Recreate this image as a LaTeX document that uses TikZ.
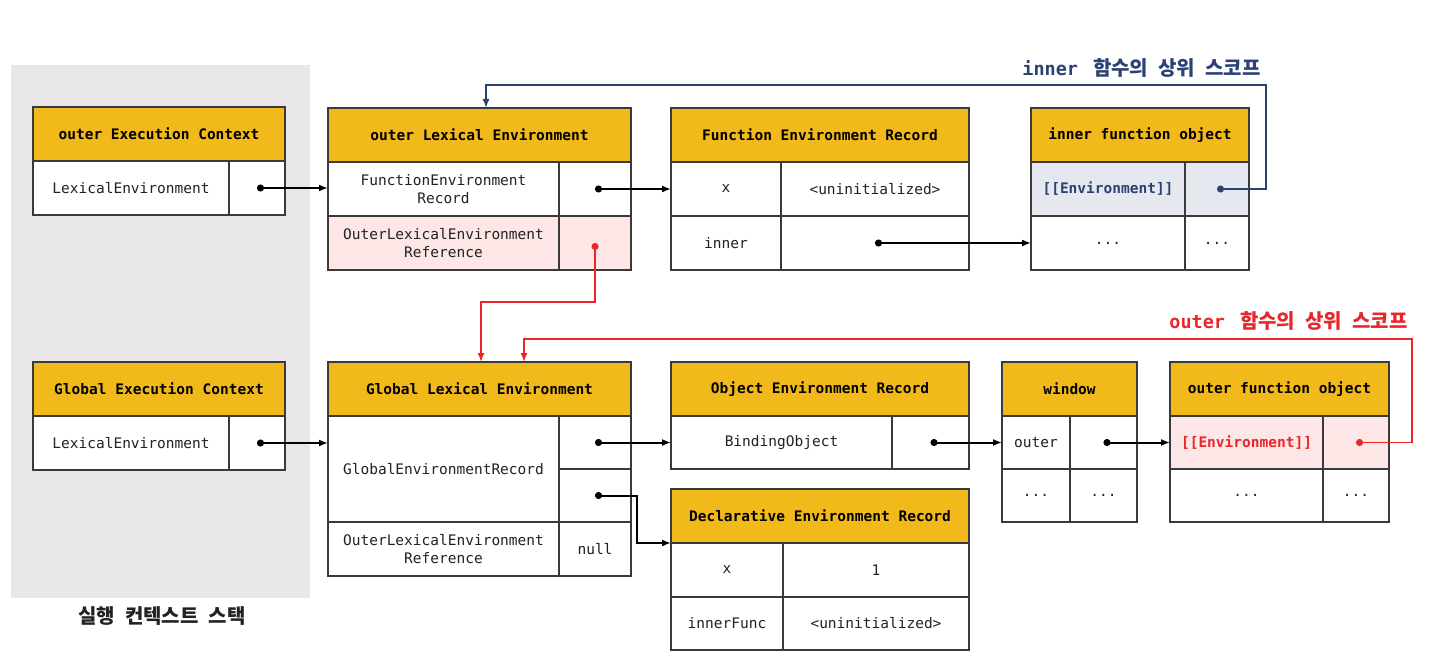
\documentclass[tikz,border=0pt]{standalone}
\usepackage{fontspec}
\setmonofont{DejaVu Sans Mono}
\newfontfamily\kofont[WordSpace=2.2]{Noto Sans CJK KR}
\usetikzlibrary{positioning, arrows.meta}

\definecolor{hdrgold}{HTML}{F2B91B}
\definecolor{pinkbg}{HTML}{FDE6E6}
\definecolor{bluebg}{HTML}{E5E8EE}
\definecolor{stackgray}{HTML}{E8E6E6}
\definecolor{navyline}{HTML}{2B4272}
\definecolor{redline}{HTML}{E8262B}
\definecolor{boxline}{HTML}{3A3A3A}
\definecolor{celltext}{HTML}{222222}

\newcommand\hdrfont{\ttfamily\bfseries\fontsize{14.5}{18}\selectfont}
\newcommand\cellfont{\ttfamily\fontsize{14.5}{18}\selectfont}
\newcommand\lblfont{\kofont\bfseries\fontsize{20}{24}\selectfont}
\newcommand\lblmono[1]{{\ttfamily\fontsize{18.5}{20}\selectfont #1}}

\tikzset{
  hdr/.style={draw=boxline, fill=hdrgold, line width=1.4pt, outer sep=0pt, inner sep=0pt,
    font=\hdrfont, anchor=north west, minimum height=54pt},
  cell/.style={draw=boxline, fill=white, line width=1.4pt, outer sep=0pt, inner sep=0pt,
    font=\cellfont, align=center, text=celltext, minimum height=54pt},
  link/.style={line width=2pt, {Circle[length=7pt]}-{Latex[length=9pt,width=7pt]}},
  thinlink/.style={line width=1.5pt, {Circle[length=7pt]}-{Latex[length=9pt,width=7pt]}},
}

\begin{document}
\begin{tikzpicture}[x=1pt,y=-1pt]
    \useasboundingbox (0,0) rectangle (1450,666);

    % execution context stack
    \fill[stackgray] (11,65) rectangle (310,598);
    \node[font=\lblfont, text=celltext] (stackLbl) at (162,616) {실행 컨텍스트 스택};

    % outer execution context
    \node[hdr, minimum width=252pt] (oecH) at (33,107) {outer Execution Context};
    \node[cell, minimum width=196pt, anchor=north west] (oecK) at (oecH.south west) {LexicalEnvironment};
    \node[cell, minimum width=56pt, right=0pt of oecK] (oecV) {};

    % outer lexical environment
    \node[hdr, minimum width=303pt] (oleH) at (328,108) {outer Lexical Environment};
    \node[cell, minimum width=231pt, anchor=north west] (oleK1) at (oleH.south west) {FunctionEnvironment\\Record};
    \node[cell, minimum width=72pt, right=0pt of oleK1] (oleV1) {};
    \node[cell, fill=pinkbg, minimum width=231pt, anchor=north west] (oleK2) at (oleK1.south west) {OuterLexicalEnvironment\\Reference};
    \node[cell, fill=pinkbg, minimum width=72pt, right=0pt of oleK2] (oleV2) {};

    % function environment record
    \node[hdr, minimum width=298pt] (ferH) at (671,108) {Function Environment Record};
    \node[cell, minimum width=110pt, anchor=north west] (ferK1) at (ferH.south west) {x};
    \node[cell, minimum width=188pt, right=0pt of ferK1] (ferV1) {<uninitialized>};
    \node[cell, minimum width=110pt, anchor=north west] (ferK2) at (ferK1.south west) {inner};
    \node[cell, minimum width=188pt, right=0pt of ferK2] (ferV2) {};

    % inner function object
    \node[hdr, minimum width=218pt] (ifoH) at (1031,108) {inner function object};
    \node[cell, fill=bluebg, text=navyline, font=\hdrfont, minimum width=154pt, anchor=north west] (ifoK1) at (ifoH.south west) {[[Environment]]};
    \node[cell, fill=bluebg, minimum width=64pt, right=0pt of ifoK1] (ifoV1) {};
    \node[cell, minimum width=154pt, anchor=north west] (ifoK2) at (ifoK1.south west) {...};
    \node[cell, minimum width=64pt, right=0pt of ifoK2] (ifoV2) {...};

    % global execution context
    \node[hdr, minimum width=252pt] (gecH) at (33,362) {Global Execution Context};
    \node[cell, minimum width=196pt, anchor=north west] (gecK) at (gecH.south west) {LexicalEnvironment};
    \node[cell, minimum width=56pt, right=0pt of gecK] (gecV) {};

    % global lexical environment
    \node[hdr, minimum width=303pt] (gleH) at (328,362) {Global Lexical Environment};
    \node[cell, minimum width=231pt, minimum height=106pt, anchor=north west] (gleK1) at (gleH.south west) {GlobalEnvironmentRecord};
    \node[cell, minimum width=72pt, minimum height=53pt, anchor=north west] (gleV1) at (gleK1.north east) {};
    \node[cell, minimum width=72pt, minimum height=53pt, below=0pt of gleV1] (gleV2) {};
    \node[cell, minimum width=231pt, anchor=north west] (gleK3) at (gleK1.south west) {OuterLexicalEnvironment\\Reference};
    \node[cell, minimum width=72pt, right=0pt of gleK3] (gleV3) {null};

    % object environment record
    \node[hdr, minimum width=298pt] (oerH) at (671,362) {Object Environment Record};
    \node[cell, minimum width=221pt, minimum height=53pt, anchor=north west] (oerK) at (oerH.south west) {BindingObject};
    \node[cell, minimum width=77pt, minimum height=53pt, right=0pt of oerK] (oerV) {};

    % declarative environment record
    \node[hdr, minimum width=298pt] (derH) at (671,489) {Declarative Environment Record};
    \node[cell, minimum width=112pt, anchor=north west] (derK1) at (derH.south west) {x};
    \node[cell, minimum width=186pt, right=0pt of derK1] (derV1) {1};
    \node[cell, minimum width=112pt, minimum height=53pt, anchor=north west] (derK2) at (derK1.south west) {innerFunc};
    \node[cell, minimum width=186pt, minimum height=53pt, right=0pt of derK2] (derV2) {<uninitialized>};

    % window
    \node[hdr, minimum width=135pt] (winH) at (1002,362) {window};
    \node[cell, minimum width=68pt, minimum height=53pt, anchor=north west] (winK1) at (winH.south west) {outer};
    \node[cell, minimum width=67pt, minimum height=53pt, right=0pt of winK1] (winV1) {};
    \node[cell, minimum width=68pt, minimum height=53pt, anchor=north west] (winK2) at (winK1.south west) {...};
    \node[cell, minimum width=67pt, minimum height=53pt, right=0pt of winK2] (winV2) {...};

    % outer function object
    \node[hdr, minimum width=219pt] (ofoH) at (1170,362) {outer function object};
    \node[cell, fill=pinkbg, text=redline, font=\hdrfont, minimum width=153pt, minimum height=53pt, anchor=north west] (ofoK1) at (ofoH.south west) {[[Environment]]};
    \node[cell, fill=pinkbg, minimum width=66pt, minimum height=53pt, right=0pt of ofoK1] (ofoV1) {};
    \node[cell, minimum width=153pt, minimum height=53pt, anchor=north west] (ofoK2) at (ofoK1.south west) {...};
    \node[cell, minimum width=66pt, minimum height=53pt, right=0pt of ofoK2] (ofoV2) {...};

    % scope labels
    \node[anchor=east, font=\lblfont, text=navyline] (innerLbl) at (1264,68) {\lblmono{inner}\hspace{5pt}~함수의 상위 스코프};
    \node[anchor=east, font=\lblfont, text=redline] (outerLbl) at (1411,321) {\lblmono{outer}\hspace{5pt}~함수의 상위 스코프};

    % bend points
    \coordinate (navyTurn) at (1266,85);
    \coordinate (navyTop) at (486,85);
    \coordinate (redTurn) at (481,302);
    \coordinate (redCorner) at (1412,339);
    \coordinate (redTop) at (524,339);

    % references
    \draw[link] (oecV.center) -- (oecV.center -| oleK1.west);
    \draw[link] (oleV1.center) -- (oleV1.center -| ferK1.west);
    \draw[link] (ferV2.center) -- (ferV2.center -| ifoK2.west);
    \draw[link] (gecV.center) -- (gecV.center -| gleK1.west);
    \draw[link] (gleV1.center) -- (gleV1.center -| oerK.west);
    \draw[link] (gleV2.center) -- ++(42,0) |- (derH.south west);
    \draw[link] (oerV.center) -- (oerV.center -| winK1.west);
    \draw[link] (winV1.center) -- (winV1.center -| ofoK1.west);

    % outer scope chain
    \draw[thinlink, navyline] (ifoV1.center) -| (navyTurn) -- (navyTop) -- (navyTop |- oleH.north);
    \draw[thinlink, redline] (oleV2.center) |- (redTurn) -- (redTurn |- gleH.north);
    \draw[thinlink, redline] (ofoV1.center) -| (redCorner) -- (redTop) -- (redTop |- gleH.north);

\end{tikzpicture}
\end{document}
